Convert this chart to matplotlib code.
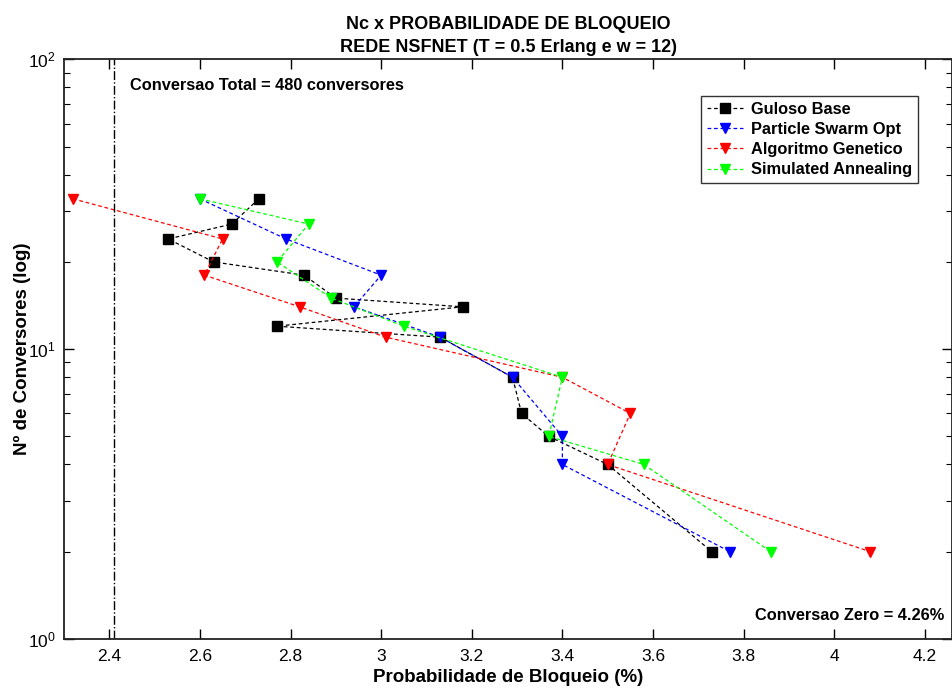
import matplotlib
matplotlib.use("Agg")
import matplotlib.pyplot as plt
from matplotlib.ticker import FixedLocator, FuncFormatter, LogLocator

plt.rcParams['font.family'] = ['Liberation Sans', 'DejaVu Sans']
plt.rcParams['mathtext.default'] = 'regular'

# Number of converters vs. blocking probability (%) for each heuristic
guloso_pb = [2.73, 2.67, 2.53, 2.63, 2.83, 2.90, 3.18, 2.77, 3.13, 3.29, 3.31, 3.37, 3.50, 3.73]
guloso_nc = [33, 27, 24, 20, 18, 15, 14, 12, 11, 8, 6, 5, 4, 2]

pso_pb = [2.60, 2.79, 3.00, 2.94, 3.13, 3.29, 3.40, 3.40, 3.77]
pso_nc = [33, 24, 18, 14, 11, 8, 5, 4, 2]

ag_pb = [2.32, 2.65, 2.61, 2.82, 3.01, 3.40, 3.55, 3.50, 4.08]
ag_nc = [33, 24, 18, 14, 11, 8, 6, 4, 2]

sa_pb = [2.60, 2.84, 2.77, 2.89, 3.05, 3.40, 3.37, 3.58, 3.86]
sa_nc = [33, 27, 20, 15, 12, 8, 5, 4, 2]

series_labels = ['Guloso Base', 'Particle Swarm Opt', 'Algoritmo Genetico', 'Simulated Annealing']

conversao_total_pb = 2.41
conversao_zero_pb = 4.26
xticks = [2.4, 2.6, 2.8, 3.0, 3.2, 3.4, 3.6, 3.8, 4.0, 4.2]

fig = plt.figure(figsize=(9.52, 6.89), dpi=100)
ax = fig.add_axes([64 / 952, 50 / 689, 888 / 952, 579.7 / 689])

dash = (0, (3, 2.2))
ax.plot(guloso_pb, guloso_nc, color='black', linestyle=dash, linewidth=0.9,
        marker='s', markersize=7, markerfacecolor='black', markeredgecolor='black',
        label=series_labels[0])
ax.plot(pso_pb, pso_nc, color='#0000ff', linestyle=dash, linewidth=0.9,
        marker='v', markersize=7.5, markerfacecolor='#0000ff', markeredgecolor='#0000ff',
        label=series_labels[1])
ax.plot(ag_pb, ag_nc, color='#ff0000', linestyle=dash, linewidth=0.9,
        marker='v', markersize=7.5, markerfacecolor='#ff0000', markeredgecolor='#ff0000',
        label=series_labels[2])
ax.plot(sa_pb, sa_nc, color='#00ff00', linestyle=dash, linewidth=0.9,
        marker='v', markersize=7.5, markerfacecolor='#00ff00', markeredgecolor='#00ff00',
        label=series_labels[3])

ax.axvline(conversao_total_pb, color='black', linestyle='-.', linewidth=1.0)

ax.set_yscale('log')
ax.set_ylim(1, 100)
ax.set_xlim(2.3, conversao_zero_pb)
ax.xaxis.set_major_locator(FixedLocator(xticks))
ax.xaxis.set_major_formatter(FuncFormatter(lambda v, p: '%g' % v))
ax.yaxis.set_minor_locator(LogLocator(base=10, subs=range(2, 10)))

ax.tick_params(which='both', direction='in', top=True, right=True, labelsize=12.5)
ax.tick_params(which='major', length=7, width=1)
ax.tick_params(which='minor', length=4, width=0.8)
ax.tick_params(axis='x', which='major', pad=7)
ax.tick_params(axis='y', which='major', pad=6)
for s in ax.spines.values():
    s.set_linewidth(1.3)
    s.set_color('#222222')

ax.text(0.0743, 0.954, 'Conversao Total = 480 conversores', transform=ax.transAxes,
        ha='left', va='center', fontsize=11.8, fontweight='bold')
ax.text(0.991, 0.041, 'Conversao Zero = 4.26%', transform=ax.transAxes,
        ha='right', va='center', fontsize=11.8, fontweight='bold')

ax.set_title('Nc x PROBABILIDADE DE BLOQUEIO\nREDE NSFNET (T = 0.5 Erlang e w = 12)',
             fontsize=13, fontweight='bold', pad=5, linespacing=1.5)
ax.set_xlabel('Probabilidade de Bloqueio (%)', fontsize=13.5, fontweight='bold', labelpad=4)
ax.set_ylabel('Nº de Conversores (log)', fontsize=13.5, fontweight='bold', labelpad=-2)

leg = ax.legend(loc='upper right', bbox_to_anchor=(0.9617, 0.9367),
                prop={'weight': 'bold', 'size': 11.8}, frameon=True, fancybox=False,
                edgecolor='black', handlelength=2.2, handletextpad=0.5,
                borderpad=0.35, labelspacing=0.32, borderaxespad=0)
leg.get_frame().set_linewidth(1.0)

fig.savefig('out.png', dpi=100)
